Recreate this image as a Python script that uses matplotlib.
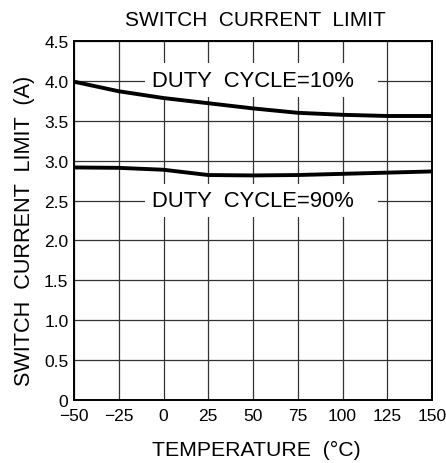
import numpy as np
import matplotlib
matplotlib.use('Agg')
import matplotlib.pyplot as plt
from matplotlib.patches import Rectangle

temps = [-50, -25, 0, 25, 50, 75, 100, 125, 150]
dc10 = [3.99, 3.87, 3.785, 3.72, 3.655, 3.60, 3.575, 3.56, 3.56]
dc90 = [2.915, 2.91, 2.886, 2.82, 2.815, 2.82, 2.835, 2.85, 2.865]

xticks = [-50, -25, 0, 25, 50, 75, 100, 125, 150]
xlabels = ['\u221250', '\u221225', '0', '25', '50', '75', '100', '125', '150']
yticks = [0, 0.5, 1.0, 1.5, 2.0, 2.5, 3.0, 3.5, 4.0, 4.5]
ylabels = ['0', '0.5', '1.0', '1.5', '2.0', '2.5', '3.0', '3.5', '4.0', '4.5']

plt.rcParams['font.family'] = ['Liberation Sans', 'DejaVu Sans']

fig = plt.figure(figsize=(4.46, 4.64), dpi=100)
ax = fig.add_axes([74/446, 1 - 401/464, (432-74)/446, (401-42)/464])

ax.set_xlim(-50, 150)
ax.set_ylim(0, 4.5)
ax.set_xticks(xticks)
ax.set_xticklabels(xlabels)
ax.set_yticks(yticks)
ax.set_yticklabels(ylabels)
ax.tick_params(length=0, labelsize=12.5)
ax.tick_params(axis='y', pad=4)
ax.tick_params(axis='x', pad=6)
ax.grid(True, color='#333333', lw=0.9)
ax.set_axisbelow(True)
for s in ax.spines.values():
    s.set_linewidth(1.4)

# white gaps in the grid behind the labels
ax.add_patch(Rectangle((-10.5, 3.80), 130.5, 0.42, fc='white', ec='none', zorder=1.5))
ax.add_patch(Rectangle((-10.5, 2.29), 130.5, 0.42, fc='white', ec='none', zorder=1.5))

ax.plot(temps, dc10, color='black', lw=2.8, zorder=3, solid_capstyle='butt')
ax.plot(temps, dc90, color='black', lw=2.8, zorder=3, solid_capstyle='butt')

ax.text(50, 4.0, 'DUTY  CYCLE=10%', ha='center', va='center', fontsize=15.8, zorder=2)
ax.text(50, 2.5, 'DUTY  CYCLE=90%', ha='center', va='center', fontsize=15.8, zorder=2)

fig.text(255/446, 1 - 20/464, 'SWITCH  CURRENT  LIMIT', ha='center', va='center', fontsize=15)
fig.text(256/446, 1 - 450/464, 'TEMPERATURE  (\u00b0C)', ha='center', va='center', fontsize=15.3)
fig.text(25/446, 1 - 231/464, 'SWITCH  CURRENT  LIMIT  (A)', ha='center', va='center',
         fontsize=15.6, rotation=90)

fig.savefig('out.png', dpi=100)
